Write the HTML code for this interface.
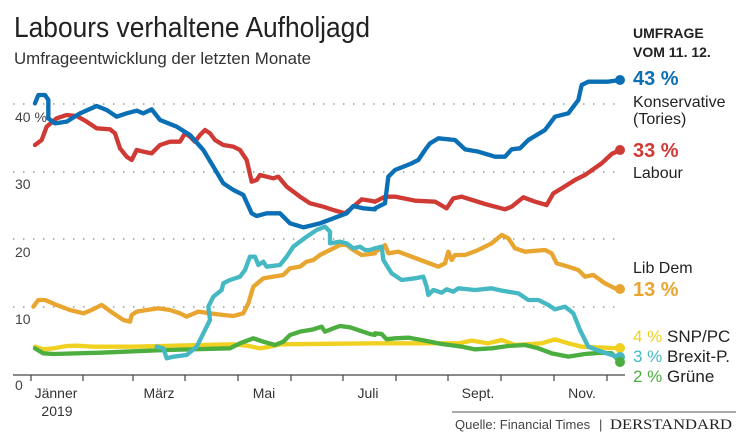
<!DOCTYPE html>
<html><head><meta charset="utf-8"><style>
html,body{margin:0;padding:0;background:#fff;}
svg{display:block;font-family:"Liberation Sans",sans-serif;}
</style></head><body>
<svg width="750" height="445" viewBox="0 0 750 445" xmlns="http://www.w3.org/2000/svg">
<rect width="750" height="445" fill="#fff"/>
<text x="14" y="37" font-size="29" fill="#222" textLength="356" lengthAdjust="spacingAndGlyphs">Labours verhaltene Aufholjagd</text>
<text x="14" y="64" font-size="17" fill="#333" textLength="297" lengthAdjust="spacingAndGlyphs">Umfrageentwicklung der letzten Monate</text>
<g stroke="#999" stroke-width="1.6" stroke-dasharray="1.5 8.5" fill="none">
<line x1="13" y1="104" x2="615" y2="104"/>
<line x1="13" y1="172" x2="615" y2="172"/>
<line x1="13" y1="239" x2="615" y2="239"/>
<line x1="13" y1="307" x2="615" y2="307"/>
</g>
<line x1="13" y1="375" x2="625" y2="375" stroke="#444" stroke-width="1.2"/>
<g stroke="#444" stroke-width="1.2">
<line x1="31" y1="375" x2="31" y2="381"/><line x1="83" y1="375" x2="83" y2="381"/><line x1="133" y1="375" x2="133" y2="381"/><line x1="185" y1="375" x2="185" y2="381"/><line x1="238" y1="375" x2="238" y2="381"/><line x1="291" y1="375" x2="291" y2="381"/><line x1="343" y1="375" x2="343" y2="381"/><line x1="396" y1="375" x2="396" y2="381"/><line x1="448" y1="375" x2="448" y2="381"/><line x1="501" y1="375" x2="501" y2="381"/><line x1="554" y1="375" x2="554" y2="381"/><line x1="607" y1="375" x2="607" y2="381"/>
</g>
<g font-size="14" fill="#444">
<text x="15" y="122">40 %</text>
<text x="15" y="189">30</text>
<text x="15" y="257">20</text>
<text x="15" y="324">10</text>
<text x="15" y="390">0</text>
</g>
<g font-size="14" fill="#333" text-anchor="middle">
<text x="56" y="398">Jänner</text>
<text x="57" y="416">2019</text>
<text x="159" y="398">März</text>
<text x="264" y="398">Mai</text>
<text x="368" y="398">Juli</text>
<text x="478" y="398">Sept.</text>
<text x="582" y="398">Nov.</text>
</g>
<g fill="none" stroke-width="13" stroke-linejoin="round" stroke-linecap="round">
<g transform="translate(0,80) scale(0.33333)">
<polyline stroke="#f0d020" points="105,800 130,808 160,805 200,798 230,797 280,800 400,800 600,795 700,793 740,797 780,805 810,800 840,793 1125,790"/>
<polyline stroke="#4cae3e" points="105,805 130,820 160,822 300,818 500,810 690,805 720,790 760,775 790,785 825,795 850,785 870,765 900,755 940,748 965,740 975,755 1000,745 1020,738 1050,742 1080,752 1110,762 1125,765"/>
<polyline stroke="#e8a530" points="100,680 115,660 135,660 170,675 210,690 250,700 275,690 305,675 340,700 370,720 390,725 395,705 410,695 440,690 475,685 510,690 540,700 560,710 595,695 630,700 670,705 700,708 730,700 745,670 760,620 790,595 820,590 850,585 870,565 900,560 920,545 940,540 960,525 990,510 1020,495 1040,495 1060,510 1085,525 1110,522 1125,520"/>
<polyline stroke="#45b8c4" points="470,800 490,805 500,835 520,830 560,825 590,800 610,760 630,720 625,680 640,650 665,630 670,610 690,600 720,590 735,570 750,530 765,530 775,555 790,545 800,560 840,555 860,530 880,500 920,470 950,450 975,440 990,455 990,490 1020,485 1040,490 1060,505 1080,500 1095,510 1110,510 1125,505"/>
<polyline stroke="#d03a35" points="105,195 125,180 140,140 170,115 200,105 230,108 260,125 290,145 330,148 345,160 360,205 380,230 395,240 410,210 430,215 455,220 480,195 510,185 540,185 555,160 570,170 585,185 600,165 615,150 630,160 645,180 670,195 700,200 720,210 740,240 755,305 770,300 780,285 800,290 820,295 835,290 860,320 900,350 930,370 970,380 1000,390 1035,400 1060,380 1085,358 1110,362 1125,365"/>
<polyline stroke="#0a6fb5" points="105,70 115,45 135,45 145,60 145,115 165,130 200,125 240,100 290,78 320,90 350,110 380,100 410,92 430,100 455,88 480,120 530,140 570,165 610,210 640,260 670,310 700,330 730,345 755,400 770,408 800,400 840,400 870,430 910,442 960,430 1000,415 1040,400 1060,378 1090,385 1125,388"/>
</g>
<g transform="translate(375,80) scale(0.33333)">
<polyline stroke="#f0d020" points="0,790 150,790 250,790 290,782 340,790 380,780 420,795 500,790 540,778 580,790 620,800 735,805"/>
<polyline stroke="#4cae3e" points="0,760 20,762 35,778 60,775 100,773 140,780 200,792 260,800 300,808 350,805 400,798 450,795 490,805 530,820 580,830 630,822 680,818 710,820 735,845"/>
<polyline stroke="#e8a530" points="0,515 20,505 30,495 40,520 70,515 110,530 150,545 190,560 210,550 220,515 230,540 240,525 270,525 310,510 350,490 380,465 400,475 420,505 450,515 510,510 530,520 545,550 580,560 610,570 630,590 655,585 690,610 720,625 735,628"/>
<polyline stroke="#45b8c4" points="0,505 20,500 25,540 50,580 80,600 120,595 145,590 155,620 160,645 175,630 200,638 215,628 235,635 250,625 300,630 350,625 380,632 430,640 460,660 490,660 520,675 540,688 570,680 595,700 615,750 640,800 680,815 710,825 735,832"/>
<polyline stroke="#d03a35" points="0,365 30,350 60,350 120,362 180,365 215,385 235,355 260,350 330,372 390,388 410,380 445,352 480,365 515,375 535,340 560,325 600,300 630,285 680,250 710,222 735,210"/>
<polyline stroke="#0a6fb5" points="0,385 30,370 40,290 60,270 110,250 130,240 150,210 165,190 190,175 240,180 270,208 310,215 360,230 390,230 410,208 435,205 460,180 510,150 540,110 580,100 610,60 620,15 640,5 700,5 735,0"/>
</g>
</g>
<circle cx="620" cy="80" r="5" fill="#0a6fb5"/>
<circle cx="620" cy="150" r="5" fill="#d03a35"/>
<circle cx="620" cy="289" r="5" fill="#e8a530"/>
<circle cx="620" cy="348" r="5" fill="#f0d020"/>
<circle cx="620" cy="357" r="5" fill="#45b8c4"/>
<circle cx="620" cy="362" r="5" fill="#4cae3e"/>
<g font-size="15" fill="#222">
<text x="633" y="38" font-weight="bold" font-size="14">UMFRAGE</text>
<text x="633" y="57" font-weight="bold" font-size="14">VOM 11. 12.</text>
<text x="633" y="85" font-size="20" font-weight="bold" fill="#0a6fb5">43 %</text>
<text x="633" y="107" font-size="16">Konservative</text>
<text x="633" y="124" font-size="16">(Tories)</text>
<text x="633" y="157" font-size="20" font-weight="bold" fill="#d03a35">33 %</text>
<text x="633" y="178" font-size="16">Labour</text>
<text x="633" y="273" font-size="16">Lib Dem</text>
<text x="633" y="296" font-size="20" font-weight="bold" fill="#e8a530">13 %</text>
<text x="633" y="342" font-size="17"><tspan fill="#f0d020">4 %</tspan> SNP/PC</text>
<text x="633" y="362" font-size="17"><tspan fill="#45b8c4">3 %</tspan> Brexit-P.</text>
<text x="633" y="382" font-size="17"><tspan fill="#4cae3e">2 %</tspan> Grüne</text>
</g>
<line x1="452" y1="412" x2="736" y2="412" stroke="#555" stroke-width="1"/>
<text x="455" y="429" font-size="13" fill="#444">Quelle: Financial Times</text>
<text x="599" y="429" font-size="13" fill="#444">|</text>
<text x="610" y="429" font-size="15" fill="#222" font-family="Liberation Serif,serif" textLength="122" lengthAdjust="spacingAndGlyphs">DERSTANDARD</text>
</svg>
</body></html>
